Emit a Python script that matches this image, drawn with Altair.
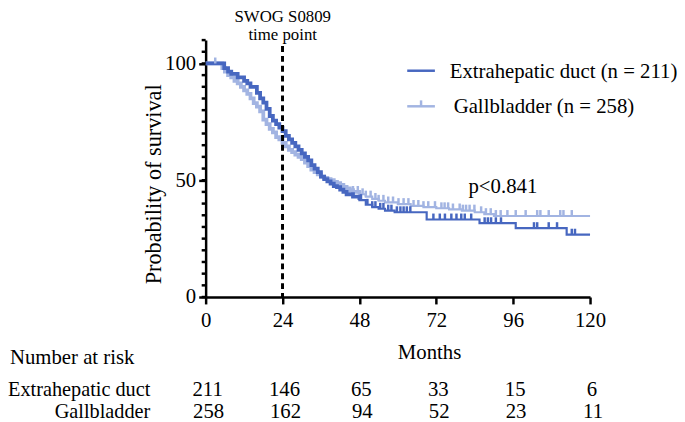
import altair as alt
import pandas as pd
import numpy as np

FONT = "Liberation Serif"
DARK = "#4767c0"
LIGHT = "#a2b4e2"

month_ticks = [0, 24, 48, 72, 96, 120]
y_major = [0, 50, 100]
y_minor = list(range(0, 111, 5))

extra_t = [0, 5.8, 7, 8, 10, 12, 13, 14, 16, 17, 18, 19, 20, 21, 22, 23, 24, 25, 26, 27,
           28, 29, 30, 31, 32, 33, 34, 35, 36, 37, 38, 39, 40, 41, 42, 43, 44, 46, 48, 50,
           52, 54, 56, 59, 69, 85.5, 96.8, 112.7, 120]
extra_s = [100, 98, 96.5, 95.5, 94, 92.5, 91.5, 90, 87.4, 85, 83.2, 80.5, 77.5, 75.5, 74, 72.5, 71, 69, 67.5, 66,
           64.5, 63, 61.5, 60, 58.5, 56.5, 55, 53.5, 51.5, 50.5, 49.5, 48.5, 47.5, 47, 46, 45, 44, 43, 41.5, 39.5,
           38.5, 37.8, 37, 36.3, 33.2, 31.6, 29.5, 26.7, 26.7]

gall_t = [0, 5.2, 6, 7, 8, 9, 10, 11, 12, 13, 14, 15, 16, 17, 18, 19, 20, 21, 22, 23,
          24, 25, 26, 27, 28, 29, 30, 31, 32, 33, 34, 35, 36, 37, 38, 39, 40, 41, 42, 43,
          44, 45, 46, 48, 50, 52, 54, 56, 60, 64, 68, 72, 76, 80, 84, 87, 90, 120]
gall_s = [100, 98, 96.5, 95, 94, 92.5, 91.5, 90, 88.5, 87, 85, 83, 81.5, 79.5, 76, 74, 72, 70.5, 68.5, 67.5,
          66, 64.5, 63, 62, 61, 60, 59, 57.5, 56, 54.5, 53.5, 52.5, 51.5, 51, 50.5, 50, 49.3, 48.8, 48, 47.2,
          46.5, 45.8, 45, 44, 43, 42, 41.2, 40.5, 39.8, 39, 38.5, 38, 37.5, 37, 36.3, 35.5, 34.7, 34.7]

extra_cens = [48.5, 50.5, 52, 53, 54.5, 55.5, 57, 58, 59.7, 60.8, 61.8, 62.8, 63.9, 71.1, 73.1,
              74.7, 76.7, 78.3, 79.8, 80.9, 82.9, 87.1, 88.1, 89.1, 90.6, 92.2, 102.5, 103.5,
              107.1, 109.7, 114.3, 115.3]
gall_cens = [3, 46, 47.5, 49, 50, 51.5, 53, 54, 55.5, 57, 58.5, 60.2, 61.8, 63.3, 64.9, 66.4,
             68, 69.5, 71.6, 73.6, 74.6, 75.7, 77.2, 79.3, 80.3, 81.3, 82.4, 83.9, 86, 87.5,
             89, 90.6, 92.1, 94.2, 96.8, 99.9, 103.5, 104.5, 107.1, 110.7, 111.7, 114.3]

risk_extra = [211, 146, 65, 33, 15, 6]
risk_gall = [258, 162, 94, 52, 23, 11]


def step_at(ts, ss, times):
    idx = np.searchsorted(np.array(ts), np.array(times), side="right") - 1
    return [ss[i] for i in idx]


extra_df = pd.DataFrame({"t": extra_t, "S": extra_s})
gall_df = pd.DataFrame({"t": gall_t, "S": gall_s})
extra_c = pd.DataFrame({"t": extra_cens, "S": step_at(extra_t, extra_s, extra_cens)})
gall_c = pd.DataFrame({"t": gall_cens, "S": step_at(gall_t, gall_s, gall_cens)})

xs = alt.Scale(domain=[0, 120], nice=False, zero=False)
ys = alt.Scale(domain=[0, 110], nice=False)

x_axis = alt.Axis(values=month_ticks, title=None, domainColor="black", domainWidth=2.5,
                  tickColor="black", tickWidth=2.5, tickSize=7, labelFont=FONT,
                  labelFontSize=21, labelColor="black", labelPadding=6, grid=False,
                  labelFlush=False)
y_axis = alt.Axis(values=y_major, title=None, domainColor="black", domainWidth=2.5,
                  tickColor="black", tickWidth=2.5, tickSize=7, labelFont=FONT,
                  labelFontSize=21, labelColor="black", labelPadding=3, grid=False)

X = alt.X("t:Q", scale=xs, axis=x_axis)
Y = alt.Y("S:Q", scale=ys, axis=y_axis)

gall_line = alt.Chart(gall_df).mark_line(interpolate="step-after", color=LIGHT, strokeWidth=2.2).encode(x=X, y=Y)
gall_bold = alt.Chart(gall_df).transform_filter("datum.t <= 48").mark_line(
    interpolate="step-after", color=LIGHT, strokeWidth=3.8).encode(x=X, y=Y)
extra_line = alt.Chart(extra_df).mark_line(interpolate="step-after", color=DARK, strokeWidth=2.2).encode(x=X, y=Y)
extra_bold = alt.Chart(extra_df).transform_filter("datum.t <= 48").mark_line(
    interpolate="step-after", color=DARK, strokeWidth=3.8).encode(x=X, y=Y)

gall_ticks = alt.Chart(gall_c).mark_rule(color=LIGHT, strokeWidth=2.5, yOffset=-6, y2Offset=0).encode(
    x=X, y=Y, y2="S:Q")
extra_ticks = alt.Chart(extra_c).mark_rule(color=DARK, strokeWidth=2.5, yOffset=-6, y2Offset=0).encode(
    x=X, y=Y, y2="S:Q")

minor = alt.Chart(pd.DataFrame({"S": y_minor})).mark_rule(color="black", strokeWidth=2.5).encode(
    x=alt.value(-4), x2=alt.value(0), y=Y)

ref = alt.Chart(pd.DataFrame({"t": [24]})).mark_rule(color="black", strokeWidth=3, strokeDash=[6, 4]).encode(
    x=X, y=alt.value(6), y2=alt.value(260))


def label(text, x, y, size=21, align="left", baseline="alphabetic", angle=0):
    return alt.Chart(pd.DataFrame({"s": [text]})).mark_text(
        font=FONT, fontSize=size, color="black", align=align, baseline=baseline, angle=angle
    ).encode(text="s:N", x=alt.value(x), y=alt.value(y))


swog1 = label("SWOG S0809", 78, -18, size=17, align="center")
swog2 = label("time point", 78, 0, size=17, align="center")
pval = label("p<0.841", 266, 155)
ytitle = label("Probability of survival", -52, 146, size=22.5, align="center", baseline="middle", angle=270)
months = label("Months", 194.5, 317, baseline="middle")
nar = label("Number at risk", -198, 322, baseline="middle")
row1 = label("Extrahepatic duct", -56, 354, size=20.5, align="right", baseline="middle")
row2 = label("Gallbladder", -56, 376, size=20.5, align="right", baseline="middle")

one = pd.DataFrame({"a": [0]})
leg_line1 = alt.Chart(one).mark_rule(color=DARK, strokeWidth=2.5).encode(
    x=alt.value(204), x2=alt.value(232), y=alt.value(31))
leg_line2 = alt.Chart(one).mark_rule(color=LIGHT, strokeWidth=2.5).encode(
    x=alt.value(204), x2=alt.value(232), y=alt.value(67))
leg_tick2 = alt.Chart(one).mark_rule(color=LIGHT, strokeWidth=2.5).encode(
    x=alt.value(218), y=alt.value(61), y2=alt.value(67))
leg_text1 = label("Extrahepatic duct (n = 211)", 247, 38)
leg_text2 = label("Gallbladder (n = 258)", 251, 74)

risk1 = alt.Chart(pd.DataFrame({"t": month_ticks, "n": risk_extra})).mark_text(
    font=FONT, fontSize=21, color="black", baseline="middle", dx=2).encode(
    x=X, y=alt.value(354), text="n:Q")
risk2 = alt.Chart(pd.DataFrame({"t": month_ticks, "n": risk_gall})).mark_text(
    font=FONT, fontSize=21, color="black", baseline="middle", dx=3).encode(
    x=X, y=alt.value(376), text="n:Q")

chart = alt.layer(
    gall_line, gall_bold, extra_line, extra_bold, gall_ticks, extra_ticks, minor, ref,
    swog1, swog2, pval, ytitle, months, nar, row1, row2,
    leg_line1, leg_line2, leg_tick2, leg_text1, leg_text2, risk1, risk2,
).properties(
    width=389, height=260,
    autosize=alt.AutoSizeParams(type="none"),
    padding={"left": 200, "top": 30, "right": 88, "bottom": 124},
).configure(background="white").configure_view(stroke=None)

chart.save("out.html", embed_options={"renderer": "svg", "actions": False})
